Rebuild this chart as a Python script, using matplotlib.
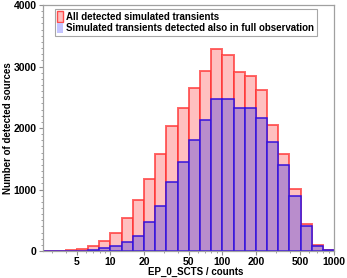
import numpy as np
import matplotlib
matplotlib.use('Agg')
import matplotlib.pyplot as plt
from matplotlib.patches import Patch
from matplotlib.ticker import FixedLocator, NullFormatter, MultipleLocator

plt.rcParams['font.family'] = ['Liberation Sans', 'DejaVu Sans']

# Data: log bins, 10 per decade, bin n spans 10^(n/10) .. 10^((n+1)/10)
bin_index = list(range(4, 30))
all_detected = [0, 8, 20, 40, 80, 160, 295, 530, 830, 1175, 1580, 2035, 2325, 2650,
                2935, 3290, 3180, 2910, 2850, 2620, 2045, 1575, 1005, 440, 98, 15]
also_full = [0, 0, 3, 8, 15, 44, 82, 153, 250, 480, 725, 1125, 1445, 1805,
             2125, 2475, 2465, 2330, 2330, 2170, 1770, 1395, 895, 415, 82, 12]
x_ticks = [5, 10, 20, 50, 100, 200, 500, 1000]
y_ticks = [0, 1000, 2000, 3000, 4000]

lefts = 10 ** (np.array(bin_index) / 10)
rights = 10 ** ((np.array(bin_index) + 1) / 10)
widths = rights - lefts

fig = plt.figure(figsize=(3.47, 2.78), dpi=100)
ax = fig.add_axes([0.125, 0.097, 0.838, 0.885])

ax.bar(lefts, all_detected, width=widths, align='edge', color='#ffc0c0',
       edgecolor=(1, 0.2, 0.2, 0.75), linewidth=1.4)
ax.bar(lefts, also_full, width=widths, align='edge', color='#b98dcc',
       edgecolor='#3512dc', linewidth=1.1)

ax.set_xscale('log')
ax.set_xlim(10 ** 0.4, 1000)
ax.set_ylim(0, 4000)

ax.xaxis.set_major_locator(FixedLocator(x_ticks))
ax.set_xticklabels([str(t) for t in x_ticks])
ax.xaxis.set_minor_formatter(NullFormatter())
ax.yaxis.set_major_locator(FixedLocator(y_ticks))
ax.yaxis.set_minor_locator(MultipleLocator(100))

for s in ax.spines.values():
    s.set_color('#a0a0a0')
    s.set_linewidth(0.9)
ax.tick_params(which='both', direction='out', colors='#909090', labelcolor='black',
               top=False, right=False)
ax.tick_params(which='major', length=3, labelsize=7.5)
ax.tick_params(axis='x', which='major', pad=1)
ax.tick_params(axis='y', which='major', pad=2)
ax.tick_params(which='minor', length=1.5)
for lab in ax.get_xticklabels() + ax.get_yticklabels():
    lab.set_fontweight('bold')

ax.set_xlabel('EP_0_SCTS / counts', fontsize=7, fontweight='bold', va='center')
ax.xaxis.set_label_coords(0.525, -0.084, transform=ax.transAxes)
ax.set_ylabel('Number of detected sources', fontsize=7, fontweight='bold', va='center')
ax.yaxis.set_label_coords(-0.122, 0.5, transform=ax.transAxes)

handles = [Patch(facecolor='#ffc0c0', edgecolor=(1, 0.3, 0.3), linewidth=1.0),
           Patch(facecolor='#c4c4ff', edgecolor='none')]
labels = ['All detected simulated transients',
          'Simulated transients detected also in full observation']
leg = ax.legend(handles, labels, loc='upper left', bbox_to_anchor=(0.04, 0.985),
                prop={'size': 7, 'weight': 'bold'}, fancybox=False,
                handlelength=0.6, handleheight=1.3, handletextpad=0.3,
                borderpad=0.25, labelspacing=0.1, borderaxespad=0.0)
leg.get_frame().set_edgecolor('#909090')
leg.get_frame().set_linewidth(0.8)

fig.savefig('out.png', dpi=100)
